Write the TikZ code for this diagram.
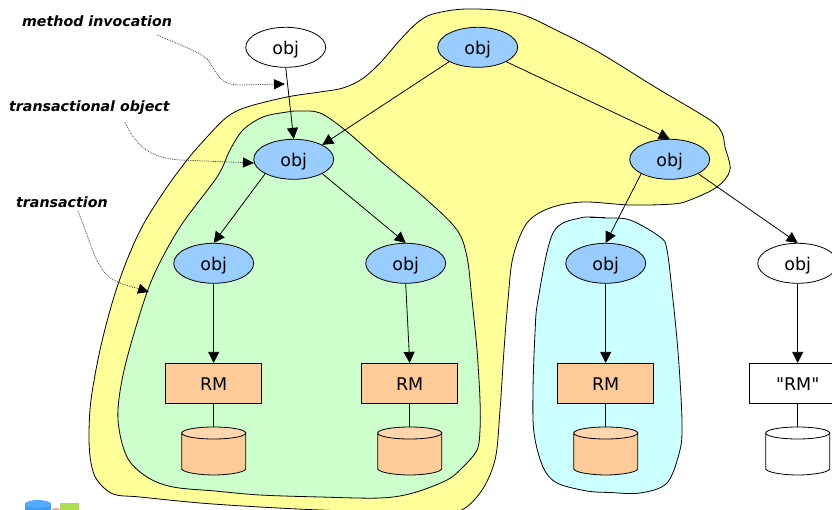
\documentclass[tikz,border=0pt]{standalone}
\usepackage{fontspec}
\setmainfont{DejaVu Sans}
\newfontfamily\plainf{DejaVu Sans}
\usetikzlibrary{arrows.meta,shapes.geometric}
\definecolor{objblue}{HTML}{99CCFF}
\definecolor{rmorange}{HTML}{FFCC99}
\definecolor{ytrans}{HTML}{FFFF99}
\definecolor{gtrans}{HTML}{CCFFCC}
\definecolor{ctrans}{HTML}{CCFFFF}
\definecolor{logoblue}{HTML}{3F9CF5}
\definecolor{logolight}{HTML}{55AAFF}
\definecolor{logogreen}{HTML}{AEDE50}
\definecolor{logopink}{HTML}{FF9C9C}
\tikzset{x=1pt,y=-1pt,
 every node/.style={font=\fontsize{17.5}{19}\selectfont,text=black,text height=17pt,text depth=3pt},
 blob/.style={draw=black,line width=0.8pt},
 objw/.style={draw=black,ellipse,fill=white,minimum width=80pt,minimum height=40pt,inner sep=0pt,line width=0.8pt},
 objb/.style={objw,fill=objblue},
 rmo/.style={draw=black,fill=rmorange,minimum width=96pt,minimum height=40pt,inner sep=0pt,line width=0.8pt},
 rmw/.style={rmo,fill=white},
 arr/.style={draw=black,line width=0.8pt,-{Triangle[length=11pt,width=11pt]}},
 link/.style={draw=black,line width=0.8pt},
 note/.style={draw=black!75,line width=0.8pt,densely dotted,-{Triangle[length=11pt,width=10pt,color=black]}},
 lab/.style={font=\fontsize{14.2}{16}\selectfont\bfseries\itshape,text=black,anchor=west,inner sep=0pt,text height=11pt,text depth=3pt},
}
\newcommand{\cyl}[3]{%
 \path[draw=black,line width=0.8pt,fill=#3] (#1-32,#2+6) -- (#1-32,#2+42) .. controls (#1-30,#2+46) and (#1-12,#2+48) .. (#1,#2+48) .. controls (#1+12,#2+48) and (#1+30,#2+46) .. (#1+32,#2+42) -- (#1+32,#2+6) -- cycle;
 \path[draw=black,line width=0.8pt,fill=#3!80!white] (#1,#2+6) ellipse [x radius=32,y radius=6];
}
\begin{document}
\begin{tikzpicture}
\useasboundingbox (0,0) rectangle (832,510);
% logo fragment
\fill[fill=logopink] (56,514) circle [radius=6];
\fill[fill=logoblue] (25,503) rectangle (51,510);
\fill[fill=logolight] (38,504) ellipse [x radius=13,y radius=4];
\fill[fill=logogreen] (60,503) rectangle (79,510);
% transaction
\path[blob,fill=ytrans] plot[smooth cycle,tension=0.55] coordinates {
 (467,9) (517,13) (560,32) (600,53) (655,87) (710,120) (722,133) (725,147) (730,170) (717,187) (690,200) (673,204)
 (630,205) (583,202) (550,208) (527,223) (513,257) (508,300) (504,350) (500,410) (495,460)
 (480,493) (457,512) (420,512) (380,512) (320,510) (260,507) (200,503) (140,497) (113,494)
 (97,480) (91,463) (89,437) (91,400) (100,350) (113,300) (127,260) (143,225) (165,190)
 (187,160) (207,137) (227,117) (247,107) (287,97) (320,92) (343,88) (362,79)
 (380,63) (400,40) (417,23) (433,14)};
% green
\path[blob,fill=gtrans] plot[smooth cycle,tension=0.55] coordinates {
 (300,111) (320,113) (345,130) (385,165) (427,200) (457,230) (467,257) (472,300) (477,350) (480,400) (480,430)
 (477,450) (463,467) (447,480) (413,493) (380,498) (320,497) (260,495) (215,491) (173,487) (147,477) (127,457)
 (118,420) (122,380) (135,330) (153,277) (180,227) (217,177) (230,150) (243,130) (263,117) (287,112)};
% cyan
\path[blob,fill=ctrans] plot[smooth cycle,tension=0.55] coordinates {
 (580,218) (605,218) (630,220) (660,237) (667,250) (673,300) (677,340) (680,380) (682,423) (680,450)
 (667,483) (640,493) (610,492.5) (587,491) (557,483) (543,467) (534,433) (533,390) (535,333) (538,300) (553,233)};
\draw[line width=1.2pt] (590,217.6) -- (605,217.6);
% objects
\node[objw] (o0) at (285.7,47.3) {obj};
\node[objb] (o1) at (477.7,47.3) {obj};
\node[objb] (o2) at (293.7,159.3) {obj};
\node[objb] (o3) at (669.7,159.3) {obj};
\node[objb] (o4) at (213.7,263.3) {obj};
\node[objb] (o5) at (405.7,263.3) {obj};
\node[objb] (o6) at (605.7,263.3) {obj};
\node[objw] (o7) at (797.7,263.3) {obj};
\node[rmo] (r1) at (213.7,383.3) {RM};
\node[rmo] (r2) at (409.7,383.3) {RM};
\node[rmo] (r3) at (605.7,383.3) {RM};
\node[rmw] (r4) at (797.7,383.3) {\plainf "RM"};
\cyl{213.7}{427}{rmorange}
\cyl{409.7}{427}{rmorange}
\cyl{605.7}{427}{rmorange}
\cyl{797.7}{427}{white}
\coordinate (d1) at (213.7,427);
\coordinate (d2) at (409.7,427);
\coordinate (d3) at (605.7,427);
\coordinate (d4) at (797.7,427);
\path[arr] (o0.south) -- (o2.north);
\path[arr] (o1.south west) -- (o2.north east);
\path[arr] (o1.south east) -- (o3.north);
\path[arr] (o2.south west) -- (o4.north);
\path[arr] (o2.south east) -- (o5.north);
\path[arr] (o3.south west) -- (o6.north);
\path[arr] (o3.south east) -- (o7.north);
\path[arr] (o4.south) -- (r1.north);
\path[arr] (o5.south) -- (r2.north);
\path[arr] (o6.south) -- (r3.north);
\path[arr] (o7.south) -- (r4.north);
\path[link] (r1.south) -- (d1);
\path[link] (r2.south) -- (d2);
\path[link] (r3.south) -- (d3);
\path[link] (r4.south) -- (d4);
% labels
\node[lab] (l1) at (22,22.5) {method invocation};
\node[lab] (l2) at (9,107.5) {transactional object};
\node[lab] (l3) at (16,203.5) {transaction};
\coordinate (a1) at (285,84);
\coordinate (a2) at (254,163);
\coordinate (a3) at (149,292);
\draw[note] (157,35) .. controls (185,47) and (200,52) .. (208,60) .. controls (218,75) and (220,85) .. (240,85) -- (a1);
\draw[note] (125,122) .. controls (135,145) and (150,158) .. (180,160) -- (a2);
\draw[note] (78,211) .. controls (90,240) and (95,265) .. (108,276) .. controls (118,284) and (130,286) .. (a3);
\end{tikzpicture}
\end{document}
